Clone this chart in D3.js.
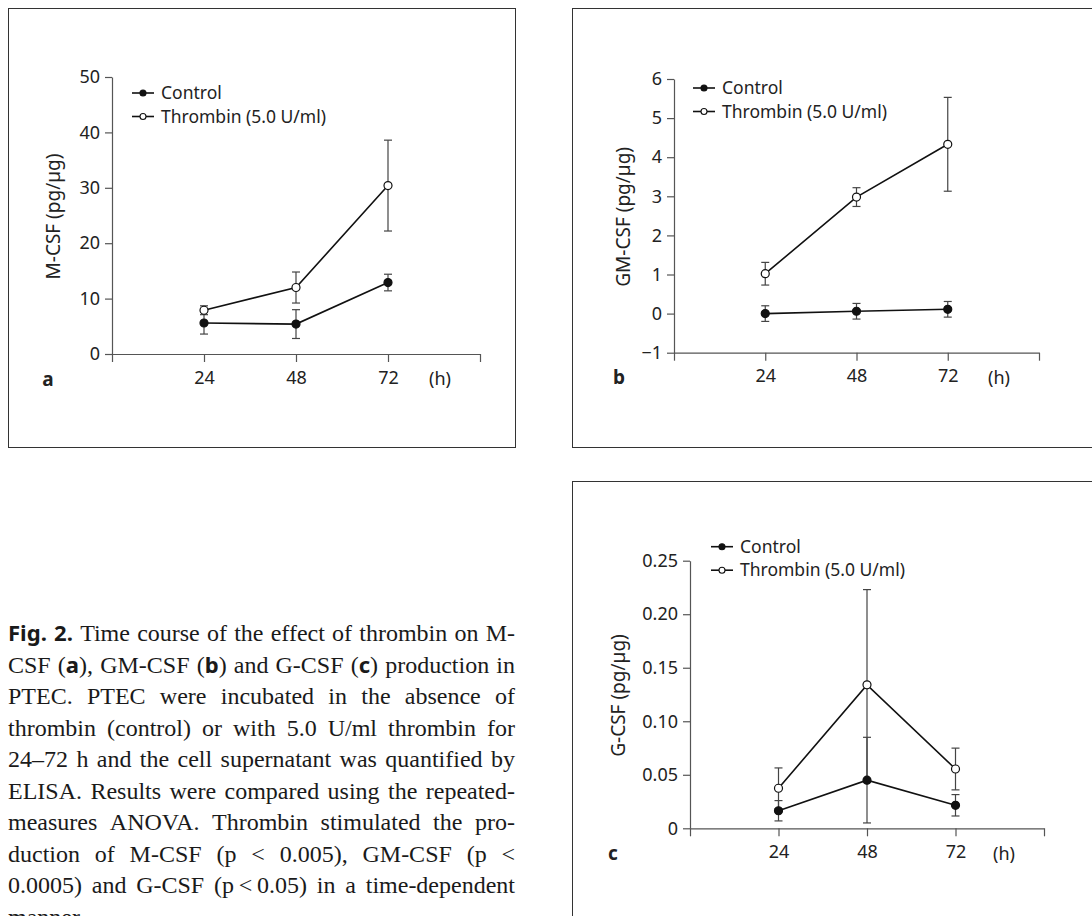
<!DOCTYPE html>
<html>
<head>
<meta charset="utf-8">
<script src="https://cdn.jsdelivr.net/npm/d3@7"></script>
<style>
  html, body { margin: 0; padding: 0; background: #fff; }
  svg { display: block; }
</style>
</head>
<body>
<svg id="fig" width="1092" height="916"></svg>
<script>
;(function() {
  "use strict";

  // Data
  // ---------------------------------------------------------------------------
  var hours = [24, 48, 72];
  var xTicks = [0, 24, 48, 72, 96];
  var seriesNames = ["Control", "Thrombin (5.0 U/ml)"];

  var mcsfControl = [5.6, 5.4, 12.9];
  var mcsfControlSd = [2.0, 2.6, 1.5];
  var mcsfThrombin = [7.9, 12.0, 30.4];
  var mcsfThrombinSd = [0.8, 2.8, 8.2];
  var mcsfTicks = [0, 10, 20, 30, 40, 50];

  var gmcsfControl = [0.0, 0.06, 0.11];
  var gmcsfControlSd = [0.2, 0.2, 0.2];
  var gmcsfThrombin = [1.02, 2.98, 4.33];
  var gmcsfThrombinSd = [0.29, 0.24, 1.2];
  var gmcsfTicks = [-1, 0, 1, 2, 3, 4, 5, 6];

  var gcsfControl = [0.0164, 0.045, 0.0215];
  var gcsfControlSd = [0.0095, 0.04, 0.01];
  var gcsfThrombin = [0.0374, 0.134, 0.0554];
  var gcsfThrombinSd = [0.019, 0.089, 0.0195];
  var gcsfTicks = [0, 0.05, 0.10, 0.15, 0.20, 0.25];
  var gcsfTickLabels = ["0", "0.05", "0.10", "0.15", "0.20", "0.25"];

  var captionLines = [
    "**Fig. 2.** Time course of the effect of thrombin on M-",
    "CSF (**a**), GM-CSF (**b**) and G-CSF (**c**) production in",
    "PTEC. PTEC were incubated in the absence of",
    "thrombin (control) or with 5.0 U/ml thrombin for",
    "24\u201372 h and the cell supernatant was quantified by",
    "ELISA. Results were compared using the repeated-",
    "measures ANOVA. Thrombin stimulated the pro-",
    "duction of M-CSF (p < 0.005), GM-CSF (p <",
    "0.0005) and G-CSF (p\u2009<\u20090.05) in a time-dependent",
    "manner."
  ];

  // Styles
  // ---------------------------------------------------------------------------
  var SANS = "'Noto Sans', 'Open Sans', sans-serif";
  var SERIF = "'Liberation Serif', 'DejaVu Serif', serif";
  var INK = "#222";
  var AXIS = "#555";
  var tickFont = 18;
  var legendFont = 17.5;

  var svg = d3.select("#fig");

  // Panel frames
  // ---------------------------------------------------------------------------
  var frames = [
    { x: 8.5, y: 8.5, w: 507, h: 439 },
    { x: 572.5, y: 8.5, w: 540, h: 439 },
    { x: 572.5, y: 481.5, w: 540, h: 460 }
  ];
  svg.selectAll("rect.frame")
    .data(frames)
    .enter().append("rect")
      .attr("class", "frame")
      .attr("x", function(d) { return d.x; })
      .attr("y", function(d) { return d.y; })
      .attr("width", function(d) { return d.w; })
      .attr("height", function(d) { return d.h; })
      .attr("fill", "none")
      .attr("stroke", "#333")
      .attr("stroke-width", 1);

  // Panel drawing
  // ---------------------------------------------------------------------------
  function drawPanel(p) {
    var x = d3.scaleLinear().domain([0, 96]).range([p.left, p.right]);
    var y = d3.scaleLinear().domain(d3.extent(p.ticks)).range([p.bottom, p.top]);
    var g = svg.append("g").attr("class", "panel");

    // axes
    var yAxis = d3.axisLeft(y)
      .tickValues(p.ticks)
      .tickSize(7)
      .tickSizeOuter(0)
      .tickPadding(5)
      .tickFormat(p.tickFormat);
    var gy = g.append("g")
      .attr("transform", "translate(" + p.left + ",0)")
      .call(yAxis);

    var xAxis = d3.axisBottom(x)
      .tickValues(xTicks)
      .tickSize(8)
      .tickSizeOuter(0)
      .tickPadding(9)
      .tickFormat(function(d) { return hours.indexOf(d) >= 0 ? d : ""; });
    var gx = g.append("g")
      .attr("transform", "translate(0," + p.bottom + ")")
      .call(xAxis);

    [gx, gy].forEach(function(a) {
      a.selectAll("path, line").attr("stroke", AXIS).attr("stroke-width", 1.2);
      a.selectAll("text")
        .attr("fill", INK)
        .attr("font-family", SANS)
        .attr("font-size", tickFont);
    });

    // unit + panel letter
    g.append("text")
      .attr("x", p.right - 40)
      .attr("y", p.bottom + 25)
      .attr("dy", "0.35em")
      .attr("text-anchor", "middle")
      .attr("font-family", SANS)
      .attr("font-size", tickFont)
      .attr("fill", INK)
      .text("(h)");

    g.append("text")
      .attr("x", p.letterX)
      .attr("y", p.bottom + 25)
      .attr("dy", "0.35em")
      .attr("text-anchor", "middle")
      .attr("font-family", SANS)
      .attr("font-weight", 700)
      .attr("font-size", 19)
      .attr("fill", INK)
      .text(p.letter);

    g.append("text")
      .attr("transform", "translate(" + p.labelX + "," + ((p.top + p.bottom) / 2 + 1) + ") rotate(-90)")
      .attr("dy", "0.35em")
      .attr("text-anchor", "middle")
      .attr("font-family", SANS)
      .attr("font-size", 19)
      .attr("fill", INK)
      .text(p.label);

    // series
    var series = [
      { mean: p.control, sd: p.controlSd, fill: "#111" },
      { mean: p.thrombin, sd: p.thrombinSd, fill: "#fff" }
    ];

    var line = d3.line()
      .x(function(d, i) { return x(hours[i]); })
      .y(function(d) { return y(d); });

    series.forEach(function(s) {
      var bars = g.append("g").attr("stroke", "#444").attr("stroke-width", 1.2);
      hours.forEach(function(h, i) {
        var hi = y(s.mean[i] + s.sd[i]), lo = y(s.mean[i] - s.sd[i]), cx = x(h);
        bars.append("line").attr("x1", cx).attr("x2", cx).attr("y1", hi).attr("y2", lo);
        bars.append("line").attr("x1", cx - 4).attr("x2", cx + 4).attr("y1", hi).attr("y2", hi);
        bars.append("line").attr("x1", cx - 4).attr("x2", cx + 4).attr("y1", lo).attr("y2", lo);
      });
    });

    series.forEach(function(s) {
      g.append("path")
        .datum(s.mean)
        .attr("d", line)
        .attr("fill", "none")
        .attr("stroke", "#111")
        .attr("stroke-width", 1.6);
    });

    series.forEach(function(s) {
      g.selectAll(null)
        .data(s.mean)
        .enter().append("circle")
          .attr("cx", function(d, i) { return x(hours[i]); })
          .attr("cy", function(d) { return y(d); })
          .attr("r", 4)
          .attr("fill", s.fill)
          .attr("stroke", "#111")
          .attr("stroke-width", 1.2);
    });

    // legend
    var lg = g.append("g").attr("transform", "translate(" + p.legendX + "," + p.legendY + ")");
    seriesNames.forEach(function(name, i) {
      var row = lg.append("g").attr("transform", "translate(0," + (i * 23.5) + ")");
      row.append("line")
        .attr("x1", 0).attr("x2", 22).attr("y1", 0).attr("y2", 0)
        .attr("stroke", "#111").attr("stroke-width", 1.6);
      row.append("circle")
        .attr("cx", 11).attr("cy", 0).attr("r", 3)
        .attr("fill", series[i].fill)
        .attr("stroke", "#111").attr("stroke-width", 1.1);
      row.append("text")
        .attr("x", 29).attr("y", 0).attr("dy", "0.35em")
        .attr("font-family", SANS)
        .attr("font-size", legendFont)
        .attr("fill", INK)
        .text(name);
    });
  }

  drawPanel({
    left: 112, right: 480, top: 77, bottom: 354,
    ticks: mcsfTicks, tickFormat: d3.format("d"),
    control: mcsfControl, controlSd: mcsfControlSd,
    thrombin: mcsfThrombin, thrombinSd: mcsfThrombinSd,
    label: "M-CSF (pg/\u00b5g)", labelX: 53,
    letter: "a", letterX: 48,
    legendX: 132, legendY: 93
  });

  drawPanel({
    left: 674, right: 1039, top: 79, bottom: 352.7,
    ticks: gmcsfTicks, tickFormat: d3.format("d"),
    control: gmcsfControl, controlSd: gmcsfControlSd,
    thrombin: gmcsfThrombin, thrombinSd: gmcsfThrombinSd,
    label: "GM-CSF (pg/\u00b5g)", labelX: 623,
    letter: "b", letterX: 619,
    legendX: 693, legendY: 88
  });

  drawPanel({
    left: 690, right: 1044, top: 560.7, bottom: 828.3,
    ticks: gcsfTicks, tickFormat: function(d, i) { return gcsfTickLabels[i]; },
    control: gcsfControl, controlSd: gcsfControlSd,
    thrombin: gcsfThrombin, thrombinSd: gcsfThrombinSd,
    label: "G-CSF (pg/\u00b5g)", labelX: 618,
    letter: "c", letterX: 613,
    legendX: 711, legendY: 546.7
  });

  // Caption (justified)
  // ---------------------------------------------------------------------------
  var capLeft = 8, capWidth = 507, capTop = 641, capLead = 31.5, capSize = 24;

  function parseLine(str) {
    var bold = false;
    return str.split(" ").map(function(w) {
      var segs = [];
      w.split("**").forEach(function(part, i) {
        if (i > 0) bold = !bold;
        if (part) segs.push({ t: part, b: bold });
      });
      return segs;
    });
  }

  var cap = svg.append("g").attr("class", "caption");
  captionLines.forEach(function(str, li) {
    var words = parseLine(str);
    var row = cap.append("g").attr("transform", "translate(" + capLeft + "," + (capTop + li * capLead) + ")");
    var nodes = words.map(function(segs) {
      var t = row.append("text")
        .attr("font-family", SERIF)
        .attr("font-size", capSize)
        .attr("fill", "#1a1a1a");
      segs.forEach(function(s) {
        var ts = t.append("tspan").text(s.t);
        if (s.b) ts.attr("font-family", SANS).attr("font-weight", 700).attr("font-size", capSize * 0.92);
      });
      return t;
    });
    var widths = nodes.map(function(t) { return t.node().getComputedTextLength(); });
    var total = d3.sum(widths);
    var last = li === captionLines.length - 1;
    var gap = (last || nodes.length < 2) ? capSize * 0.25 : (capWidth - total) / (nodes.length - 1);
    // squeeze a line that is too long for the column
    if (gap < 2) {
      var k = (capWidth - 2 * (nodes.length - 1)) / total;
      nodes.forEach(function(t, i) {
        t.attr("textLength", widths[i] * k).attr("lengthAdjust", "spacingAndGlyphs");
        widths[i] *= k;
      });
      gap = 2;
    }
    var cx = 0;
    nodes.forEach(function(t, i) {
      t.attr("x", cx);
      cx += widths[i] + gap;
    });
  });
})();
</script>
</body>
</html>
